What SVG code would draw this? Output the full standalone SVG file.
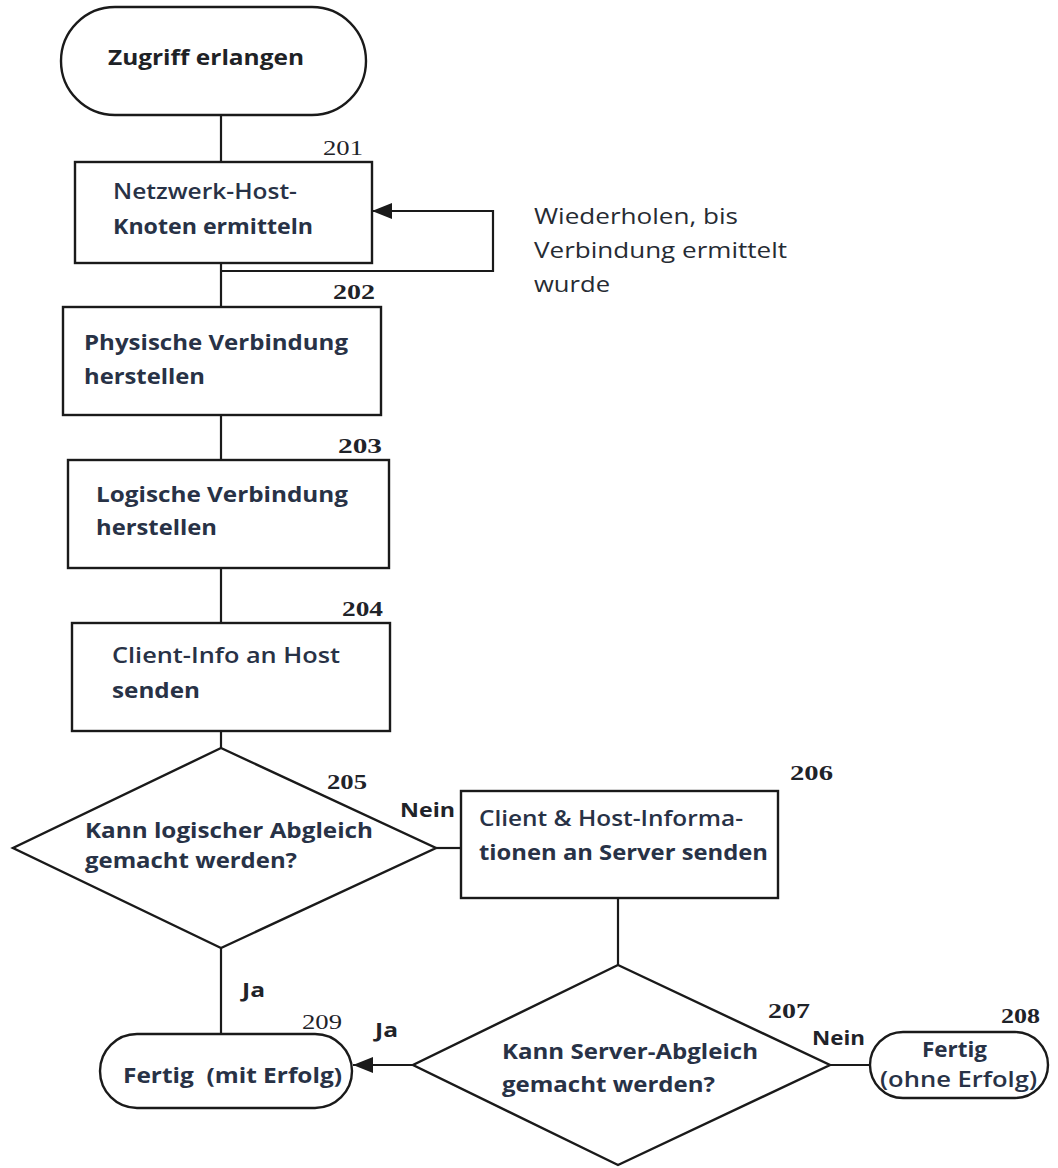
<svg xmlns="http://www.w3.org/2000/svg" width="1058" height="1168" viewBox="0 0 1058 1168">
<style>
.shape{fill:#fff;stroke:#1a1a1a;stroke-width:2.4}
.line{fill:none;stroke:#1a1a1a;stroke-width:2.2}
.t{font-family:"Open Sans","Noto Sans","Liberation Sans",sans-serif;font-size:22px;font-weight:700;fill:#283246}
.m{font-weight:600}
.r{font-family:"Open Sans","Noto Sans","Liberation Sans",sans-serif;font-size:21px;font-weight:400;fill:#262b33}
.num{font-family:"Liberation Serif","DejaVu Serif",serif;font-size:22px;fill:#1f2329}
.nb{font-weight:700}
.lab{font-family:"Open Sans","Noto Sans","Liberation Sans",sans-serif;font-size:20px;font-weight:700;fill:#1f2329}
</style>
<defs>
<marker id="arr" viewBox="0 0 20 16" refX="20" refY="8" markerWidth="20" markerHeight="16" markerUnits="userSpaceOnUse" orient="auto">
<path d="M0,0 L20,8 L0,16 z" fill="#1a1a1a"/>
</marker>
</defs>
<rect width="1058" height="1168" fill="#fff"/>
<g id="connectors">
<line class="line" x1="221" y1="115" x2="221" y2="162"/>
<line class="line" x1="221" y1="263" x2="221" y2="307"/>
<line class="line" x1="221" y1="415" x2="221" y2="460"/>
<line class="line" x1="221" y1="568" x2="221" y2="623"/>
<line class="line" x1="221" y1="731" x2="221" y2="748"/>
<polyline class="line" points="222,271 493,271 493,211 372,211" marker-end="url(#arr)"/>
<line class="line" x1="436" y1="848" x2="461" y2="848"/>
<line class="line" x1="618" y1="898" x2="618" y2="965"/>
<line class="line" x1="221" y1="948" x2="221" y2="1034"/>
<line class="line" x1="413" y1="1065" x2="353" y2="1065" marker-end="url(#arr)"/>
<line class="line" x1="830" y1="1065" x2="870" y2="1065"/>
<text class="lab" x="400" y="817" textLength="55" lengthAdjust="spacingAndGlyphs">Nein</text>
<text class="lab" x="242" y="997" textLength="23" lengthAdjust="spacingAndGlyphs">Ja</text>
<text class="lab" x="375" y="1037" textLength="23" lengthAdjust="spacingAndGlyphs">Ja</text>
<text class="lab" x="812" y="1045" textLength="53" lengthAdjust="spacingAndGlyphs">Nein</text>
</g>
<g id="start">
<rect class="shape" x="61" y="7" width="305" height="108" rx="54" ry="54"/>
<text class="t" x="108" y="65" textLength="196" lengthAdjust="spacingAndGlyphs" style="fill:#1e2226">Zugriff erlangen</text>
</g>
<g id="n201">
<rect class="shape" x="75" y="162" width="297" height="101"/>
<text class="num" x="323" y="155" textLength="40" lengthAdjust="spacingAndGlyphs">201</text>
<text class="t m" x="113" y="199" textLength="184" lengthAdjust="spacingAndGlyphs">Netzwerk-Host-</text>
<text class="t" x="113" y="234" textLength="200" lengthAdjust="spacingAndGlyphs">Knoten ermitteln</text>
</g>
<g id="note">
<text class="r" x="534" y="224" textLength="204" lengthAdjust="spacingAndGlyphs">Wiederholen, bis</text>
<text class="r" x="534" y="258" textLength="253" lengthAdjust="spacingAndGlyphs">Verbindung ermittelt</text>
<text class="r" x="534" y="292" textLength="76" lengthAdjust="spacingAndGlyphs">wurde</text>
</g>
<g id="n202">
<rect class="shape" x="63" y="307" width="318" height="108"/>
<text class="num nb" x="333" y="299" textLength="42" lengthAdjust="spacingAndGlyphs">202</text>
<text class="t" x="84" y="350" textLength="264" lengthAdjust="spacingAndGlyphs">Physische Verbindung</text>
<text class="t" x="84" y="384" textLength="121" lengthAdjust="spacingAndGlyphs">herstellen</text>
</g>
<g id="n203">
<rect class="shape" x="68" y="460" width="321" height="108"/>
<text class="num nb" x="338" y="453" textLength="44" lengthAdjust="spacingAndGlyphs">203</text>
<text class="t" x="96" y="502" textLength="252" lengthAdjust="spacingAndGlyphs">Logische Verbindung</text>
<text class="t" x="96" y="535" textLength="121" lengthAdjust="spacingAndGlyphs">herstellen</text>
</g>
<g id="n204">
<rect class="shape" x="72" y="623" width="318" height="108"/>
<text class="num nb" x="342" y="616" textLength="41" lengthAdjust="spacingAndGlyphs">204</text>
<text class="t m" x="112" y="663" textLength="228" lengthAdjust="spacingAndGlyphs">Client-Info an Host</text>
<text class="t" x="112" y="698" textLength="88" lengthAdjust="spacingAndGlyphs">senden</text>
</g>
<g id="n205">
<polygon class="shape" points="221,748 436,848 221,948 13,848"/>
<text class="num nb" x="327" y="789" textLength="40" lengthAdjust="spacingAndGlyphs">205</text>
<text class="t" x="85" y="838" textLength="288" lengthAdjust="spacingAndGlyphs">Kann logischer Abgleich</text>
<text class="t" x="85" y="868" textLength="212" lengthAdjust="spacingAndGlyphs">gemacht werden?</text>
</g>
<g id="n206">
<rect class="shape" x="461" y="791" width="317" height="107"/>
<text class="num nb" x="790" y="780" textLength="43" lengthAdjust="spacingAndGlyphs">206</text>
<text class="t m" x="479" y="826" textLength="264" lengthAdjust="spacingAndGlyphs">Client &amp; Host-Informa-</text>
<text class="t" x="479" y="860" textLength="289" lengthAdjust="spacingAndGlyphs">tionen an Server senden</text>
</g>
<g id="n207">
<polygon class="shape" points="618,965 830,1065 618,1165 413,1065"/>
<text class="num nb" x="768" y="1018" textLength="42" lengthAdjust="spacingAndGlyphs">207</text>
<text class="t" x="502" y="1059" textLength="256" lengthAdjust="spacingAndGlyphs">Kann Server-Abgleich</text>
<text class="t" x="502" y="1092" textLength="213" lengthAdjust="spacingAndGlyphs">gemacht werden?</text>
</g>
<g id="n208">
<rect class="shape" x="870" y="1032" width="178" height="66" rx="33" ry="33"/>
<text class="num nb" x="1001" y="1023" textLength="39" lengthAdjust="spacingAndGlyphs">208</text>
<text class="t" x="922" y="1057" textLength="65" lengthAdjust="spacingAndGlyphs">Fertig</text>
<text class="t m" x="880" y="1087" textLength="157" lengthAdjust="spacingAndGlyphs">(ohne Erfolg)</text>
</g>
<g id="n209">
<rect class="shape" x="100" y="1034" width="252" height="74" rx="37" ry="37"/>
<text class="num" x="302" y="1029" textLength="40" lengthAdjust="spacingAndGlyphs">209</text>
<text class="t" x="123" y="1083" textLength="219" lengthAdjust="spacingAndGlyphs" style="white-space:pre">Fertig  (mit Erfolg)</text>
</g>
</svg>
